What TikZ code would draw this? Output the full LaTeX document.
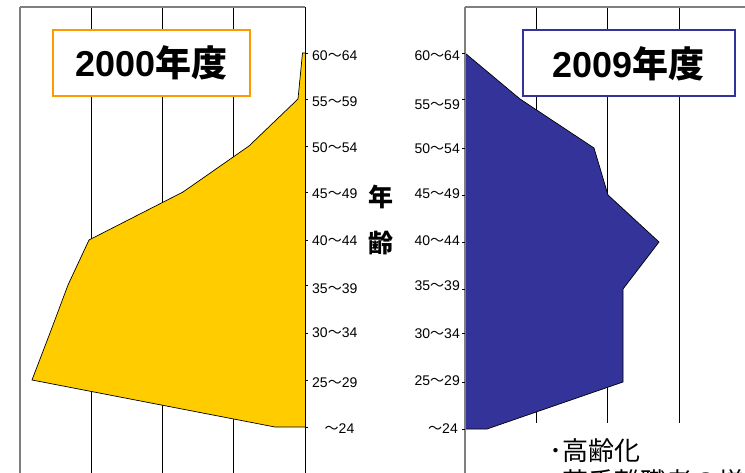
\documentclass[tikz,border=0pt]{standalone}
\usepackage{fontspec}
\setmainfont{Liberation Sans}
\newfontfamily\jp{Noto Sans CJK JP}
\definecolor{yel}{HTML}{FFCC00}
\definecolor{navyb}{HTML}{333399}
\definecolor{org}{HTML}{FF9900}
\definecolor{bordergray}{HTML}{7F7F7F}
\tikzset{
  gridline/.style={black, line width=0.8pt},
  frameline/.style={bordergray, line width=1.8pt},
  axisline/.style={black, line width=0.9pt},
  tickline/.style={black, line width=0.8pt},
  pyramid/.style={draw=black, line width=0.7pt, line join=miter},
  agelbl/.style={inner sep=0pt, font=\fontsize{14pt}{14pt}\selectfont},
  titlebox/.style={draw, line width=2pt, fill=white, minimum width=197pt, minimum height=66pt, inner sep=0pt,
    font=\fontsize{36pt}{36pt}\selectfont\bfseries},
  vlbl/.style={inner sep=0pt, font=\jp\bfseries\fontsize{25pt}{25pt}\selectfont},
  bullet/.style={anchor=base west, inner sep=0pt, font=\jp\fontsize{26pt}{32pt}\selectfont}
}
\begin{document}
\begin{tikzpicture}[x=1pt,y=-1pt]
\useasboundingbox (0,0) rectangle (745,473);
\clip (0,0) rectangle (745,473);
\fill[white] (0,0) rectangle (745,473);

% ---------- left chart (2000) ----------
\foreach \gx in {91,162.5,233.5} \draw[gridline] (\gx,7) -- (\gx,473);
\draw[frameline] (20,7) -- (20,473);
\draw[frameline] (20,7) -- (305,7);
\fill[yel] (305,53) -- (302.5,53) -- (298,99) -- (249,146) -- (183,192) -- (89,240) -- (68,285) -- (50,333) -- (32,380) -- (275,427) -- (305,427) -- cycle;
\draw[pyramid] (305,53) -- (302.5,53) -- (298,99) -- (249,146) -- (183,192) -- (89,240) -- (68,285) -- (50,333) -- (32,380) -- (275,427) -- (305,427);
\draw[axisline] (305,7) -- (305,473);
\foreach \ty in {53,99,146,192,240,285,333,380,427} \draw[tickline] (305,\ty) -- (308,\ty);

% ---------- right chart (2009) ----------
\foreach \gx in {536.7,607.7,679} \draw[gridline] (\gx,7) -- (\gx,423);
\draw[frameline] (465,7) -- (745,7);
\fill[navyb] (465,53) -- (520,99) -- (594,148) -- (608,195) -- (659,242) -- (623,289) -- (623,333) -- (623,382) -- (487,429) -- (465,429) -- cycle;
\draw[pyramid] (465,53) -- (520,99) -- (594,148) -- (608,195) -- (659,242) -- (623,289) -- (623,333) -- (623,382) -- (487,429) -- (465,429);
\draw[frameline] (465,7) -- (465,473);
\foreach \ty in {53,99,148,195,242,289,333,382,429} \draw[tickline] (462,\ty) -- (465,\ty);

% ---------- title boxes ----------
\node[titlebox, draw=org] (t2000) at (151.5,63) {2000{\jp\bfseries 年度}};
\node[titlebox, draw=navyb, minimum width=212pt] (t2009) at (628.5,63.5) {2009{\jp\bfseries 年度}};

% ---------- age labels (left) ----------
\node[agelbl, anchor=west] (l1) at (312,56) {60{\jp 〜}64};
\node[agelbl, anchor=west] (l2) at (312,102) {55{\jp 〜}59};
\node[agelbl, anchor=west] (l3) at (312,148) {50{\jp 〜}54};
\node[agelbl, anchor=west] (l4) at (312,194) {45{\jp 〜}49};
\node[agelbl, anchor=west] (l5) at (312,241) {40{\jp 〜}44};
\node[agelbl, anchor=west] (l6) at (312,289) {35{\jp 〜}39};
\node[agelbl, anchor=west] (l7) at (312,333) {30{\jp 〜}34};
\node[agelbl, anchor=west] (l8) at (312,383) {25{\jp 〜}29};
\node[agelbl] (l9) at (339.5,429) {{\jp 〜}24};

% ---------- age labels (right) ----------
\node[agelbl, anchor=east] (r1) at (460,56) {60{\jp 〜}64};
\node[agelbl, anchor=east] (r2) at (460,105) {55{\jp 〜}59};
\node[agelbl, anchor=east] (r3) at (460,149) {50{\jp 〜}54};
\node[agelbl, anchor=east] (r4) at (460,194) {45{\jp 〜}49};
\node[agelbl, anchor=east] (r5) at (460,241) {40{\jp 〜}44};
\node[agelbl, anchor=east] (r6) at (460,286) {35{\jp 〜}39};
\node[agelbl, anchor=east] (r7) at (460,334) {30{\jp 〜}34};
\node[agelbl, anchor=east] (r8) at (460,381) {25{\jp 〜}29};
\node[agelbl] (r9) at (443,429) {{\jp 〜}24};

% ---------- vertical axis title ----------
\node[vlbl] (nen) at (380.5,197) {年};
\node[vlbl] (rei) at (381,243) {齢};

% ---------- bullet notes ----------
\node[bullet] (b1) at (549,460) {･高齢化};
\node[bullet] (b2) at (549,491) {･若手離職者の増加};
\end{tikzpicture}
\end{document}
